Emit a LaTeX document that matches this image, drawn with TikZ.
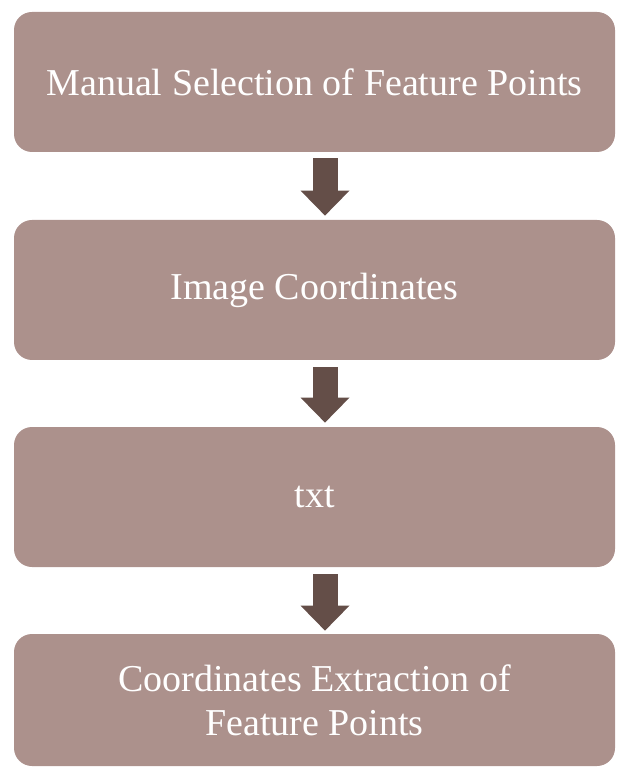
\documentclass[tikz,border=0pt]{standalone}
\usepackage{fontspec}
\setmainfont{Liberation Serif}
\usepackage{tikz}
\usetikzlibrary{arrows.meta}
\definecolor{boxrose}{RGB}{172,145,140}
\definecolor{arrowbrown}{RGB}{100,78,72}

\begin{document}
\begin{tikzpicture}[x=0.5pt,y=-0.5pt,
    stepbox/.style={fill=boxrose, rounded corners=9pt, minimum width=300.5pt,
        minimum height=70pt, inner sep=0pt, align=center, text=white,
        font=\fontsize{19}{22}\selectfont},
    flow/.style={draw=arrowbrown, line width=12.5pt,
        -{Triangle[width=24.5pt,length=12.5pt,line width=0pt]}}]
    \useasboundingbox (0,0) rectangle (620,769);

    \node [stepbox] (select) at (314.5,82) {Manual Selection of Feature Points};
    \node [stepbox] (imgcoord) at (314.5,290) {Image Coordinates};
    \node [stepbox] (txt) at (314.5,497) {txt};
    \node [stepbox, minimum height=66pt] (extract) at (314.5,700) {Coordinates Extraction of\\Feature Points};

    % arrows between the steps
    \draw [flow] ([xshift=5.25pt,yshift=-3pt]select.south) -- ([xshift=5.25pt,yshift=2pt]imgcoord.north);
    \draw [flow] ([xshift=5.25pt,yshift=-3.5pt]imgcoord.south) -- ([xshift=5.25pt,yshift=2pt]txt.north);
    \draw [flow] ([xshift=5.25pt,yshift=-3.5pt]txt.south) -- ([xshift=5.25pt,yshift=1.5pt]extract.north);

\end{tikzpicture}
\end{document}
